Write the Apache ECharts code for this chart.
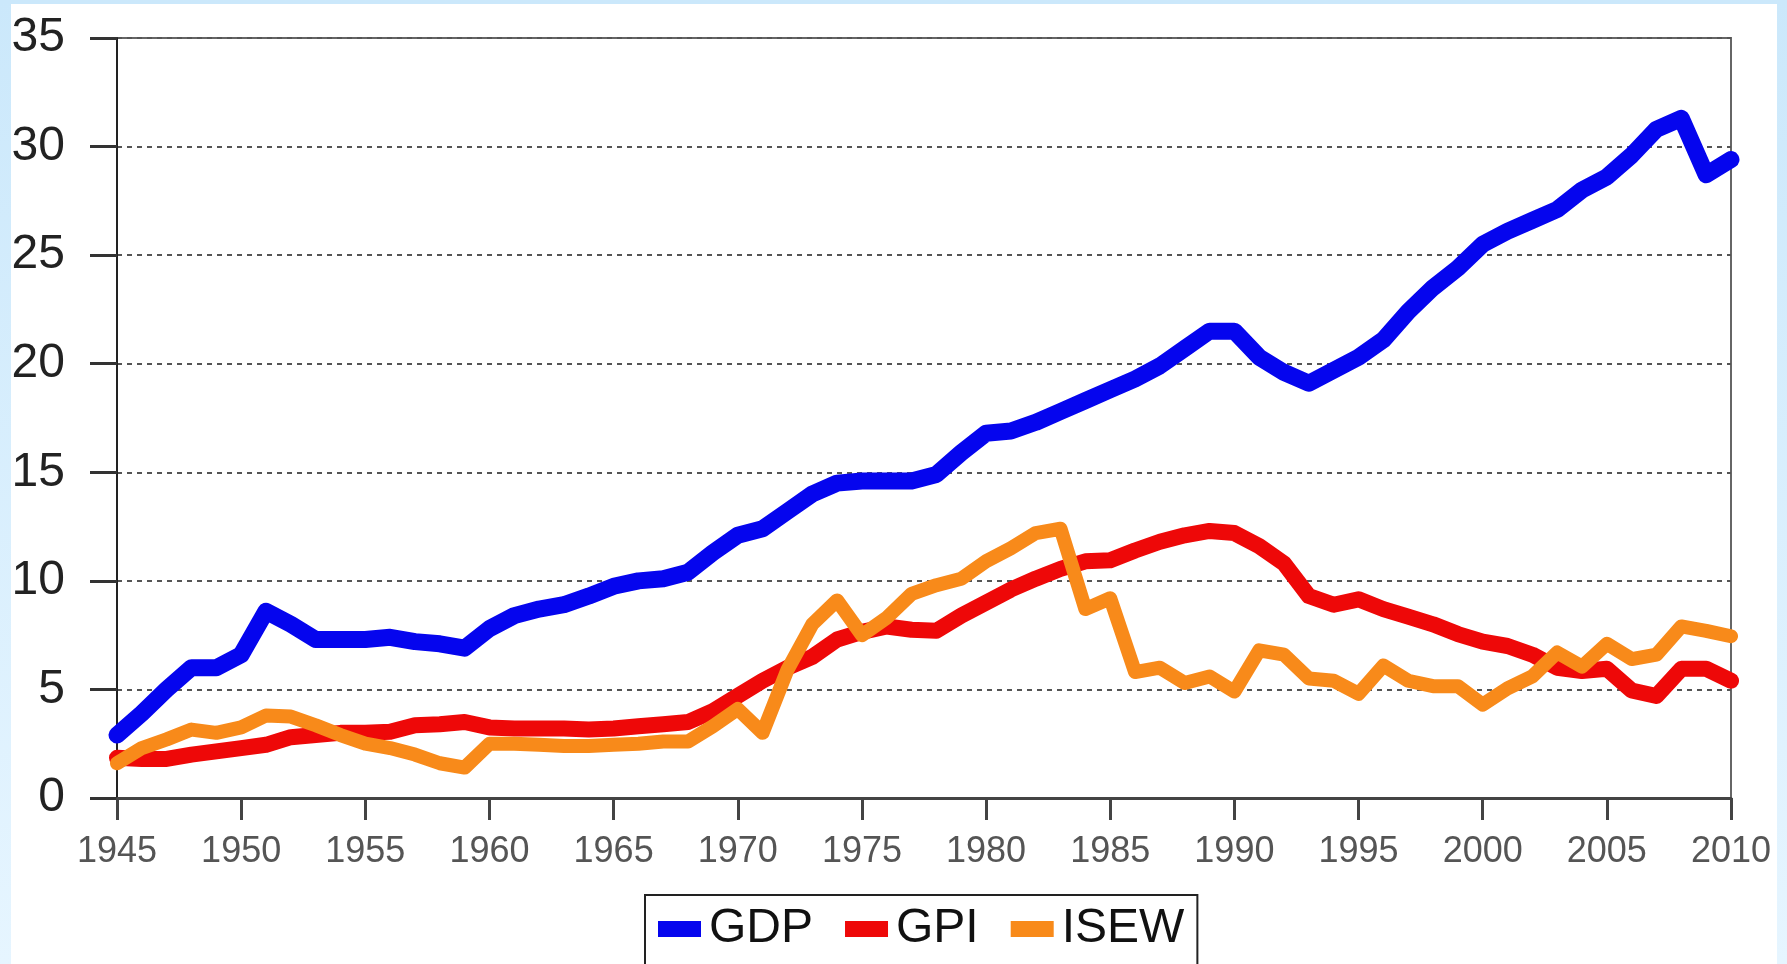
<!DOCTYPE html>
<html>
<head>
<meta charset="utf-8">
<script src="https://cdn.jsdelivr.net/npm/echarts@6/dist/echarts.min.js"></script>
<style>
  html, body { margin: 0; padding: 0; width: 1787px; height: 964px; overflow: hidden;
    background: linear-gradient(to bottom, #cbe8fb, #e6f5ff); }
  #paper { position: absolute; left: 11px; top: 4px; width: 1766px; height: 960px; background: #ffffff; }
  #chart { position: absolute; left: 0; top: 0; width: 1787px; height: 964px; }
</style>
</head>
<body>
<div id="paper"></div>
<div id="chart"></div>
<script>
const years = [];
for (let y = 1945; y <= 2010; y++) years.push(y);

const gdp = [2.9, 3.9, 5.0, 6.0, 6.0, 6.6, 8.6, 8.0, 7.3, 7.3,
  7.3, 7.4, 7.2, 7.1, 6.9, 7.8, 8.4, 8.7, 8.9, 9.3,
  9.75, 10.0, 10.1, 10.4, 11.3, 12.1, 12.4, 13.2, 14.0, 14.5,
  14.6, 14.6, 14.6, 14.9, 15.9, 16.8, 16.9, 17.3, 17.8, 18.3,
  18.8, 19.3, 19.9, 20.7, 21.5, 21.5, 20.3, 19.6, 19.1, 19.7,
  20.3, 21.1, 22.4, 23.5, 24.4, 25.5, 26.1, 26.6, 27.1, 28.0,
  28.6, 29.6, 30.8, 31.3, 28.7, 29.4];

const gpi = [1.85, 1.8, 1.8, 2.0, 2.15, 2.3, 2.45, 2.8, 2.9, 3.0,
  3.0, 3.05, 3.35, 3.4, 3.5, 3.25, 3.2, 3.2, 3.2, 3.15,
  3.2, 3.3, 3.4, 3.5, 4.0, 4.7, 5.4, 6.0, 6.5, 7.3,
  7.65, 7.9, 7.75, 7.7, 8.4, 9.0, 9.6, 10.1, 10.55, 10.9,
  10.95, 11.4, 11.8, 12.1, 12.3, 12.2, 11.6, 10.8, 9.3, 8.9,
  9.15, 8.7, 8.35, 8.0, 7.55, 7.2, 7.0, 6.6, 6.0, 5.85,
  5.95, 4.95, 4.7, 5.95, 5.95, 5.4];

const isew = [1.6, 2.3, 2.7, 3.15, 3.0, 3.25, 3.8, 3.75, 3.35, 2.9,
  2.5, 2.3, 2.0, 1.6, 1.4, 2.5, 2.5, 2.45, 2.4, 2.4,
  2.45, 2.5, 2.6, 2.6, 3.3, 4.1, 3.0, 5.9, 8.0, 9.1,
  7.5, 8.3, 9.4, 9.8, 10.1, 10.9, 11.5, 12.2, 12.4, 8.7,
  9.2, 5.8, 6.0, 5.3, 5.6, 4.9, 6.8, 6.6, 5.5, 5.4,
  4.8, 6.1, 5.4, 5.15, 5.15, 4.3, 5.05, 5.6, 6.7, 6.05,
  7.1, 6.4, 6.6, 7.9, 7.7, 7.45];

const seriesNames = ['GDP', 'GPI', 'ISEW'];
const seriesColors = ['#0505ee', '#ee0808', '#f88a1a'];

const pairs = (vals) => years.map((y, i) => [y, vals[i]]);

const chart = echarts.init(document.getElementById('chart'), null, { renderer: 'canvas' });
const font = "'Liberation Sans', Arial, sans-serif";

const mkSeries = (idx, vals, width) => ({
  name: seriesNames[idx],
  type: 'line',
  data: pairs(vals),
  showSymbol: false,
  symbol: 'none',
  color: seriesColors[idx],
  itemStyle: { color: seriesColors[idx] },
  lineStyle: { color: seriesColors[idx], width: width, join: 'round', cap: 'round' },
  emphasis: { disabled: true },
  animation: false,
  z: 3 + idx
});

chart.setOption({
  backgroundColor: 'transparent',
  animation: false,
  grid: {
    left: 117, right: 56, top: 38, bottom: 166,
    show: true, borderColor: '#666666', borderWidth: 2, backgroundColor: 'transparent'
  },
  legend: {
    show: true,
    left: 645, top: 895,
    orient: 'horizontal',
    icon: 'rect',
    itemWidth: 43, itemHeight: 16,
    itemGap: 32,
    padding: [8, 13, 10, 13],
    borderColor: '#222222', borderWidth: 2,
    backgroundColor: '#ffffff',
    textStyle: { fontFamily: font, fontSize: 48, color: '#111111', lineHeight: 52, padding: [0, 0, 0, 3] },
    data: seriesNames.map((n, i) => ({ name: n, icon: 'rect', itemStyle: { color: seriesColors[i] } })),
    selectedMode: false
  },
  xAxis: {
    type: 'value',
    min: 1945, max: 2010, interval: 5,
    axisLine: { show: true, onZero: false, lineStyle: { color: '#444444', width: 3 } },
    axisTick: { show: true, inside: false, length: 22, lineStyle: { color: '#444444', width: 3 } },
    axisLabel: { margin: 36, fontFamily: font, fontSize: 36, color: '#555555', formatter: (v) => String(v) },
    splitLine: { show: false }
  },
  yAxis: {
    type: 'value',
    min: 0, max: 35, interval: 5,
    axisLine: { show: true, lineStyle: { color: '#222222', width: 2 } },
    axisTick: { show: true, inside: false, length: 27, lineStyle: { color: '#333333', width: 3 } },
    axisLabel: { margin: 52, fontFamily: font, fontSize: 48, color: '#222222' },
    splitLine: { show: true, lineStyle: { color: '#555555', width: 2, type: [5, 5] } }
  },
  series: [
    mkSeries(0, gdp, 17),
    mkSeries(1, gpi, 16),
    mkSeries(2, isew, 14)
  ]
});
</script>
</body>
</html>
